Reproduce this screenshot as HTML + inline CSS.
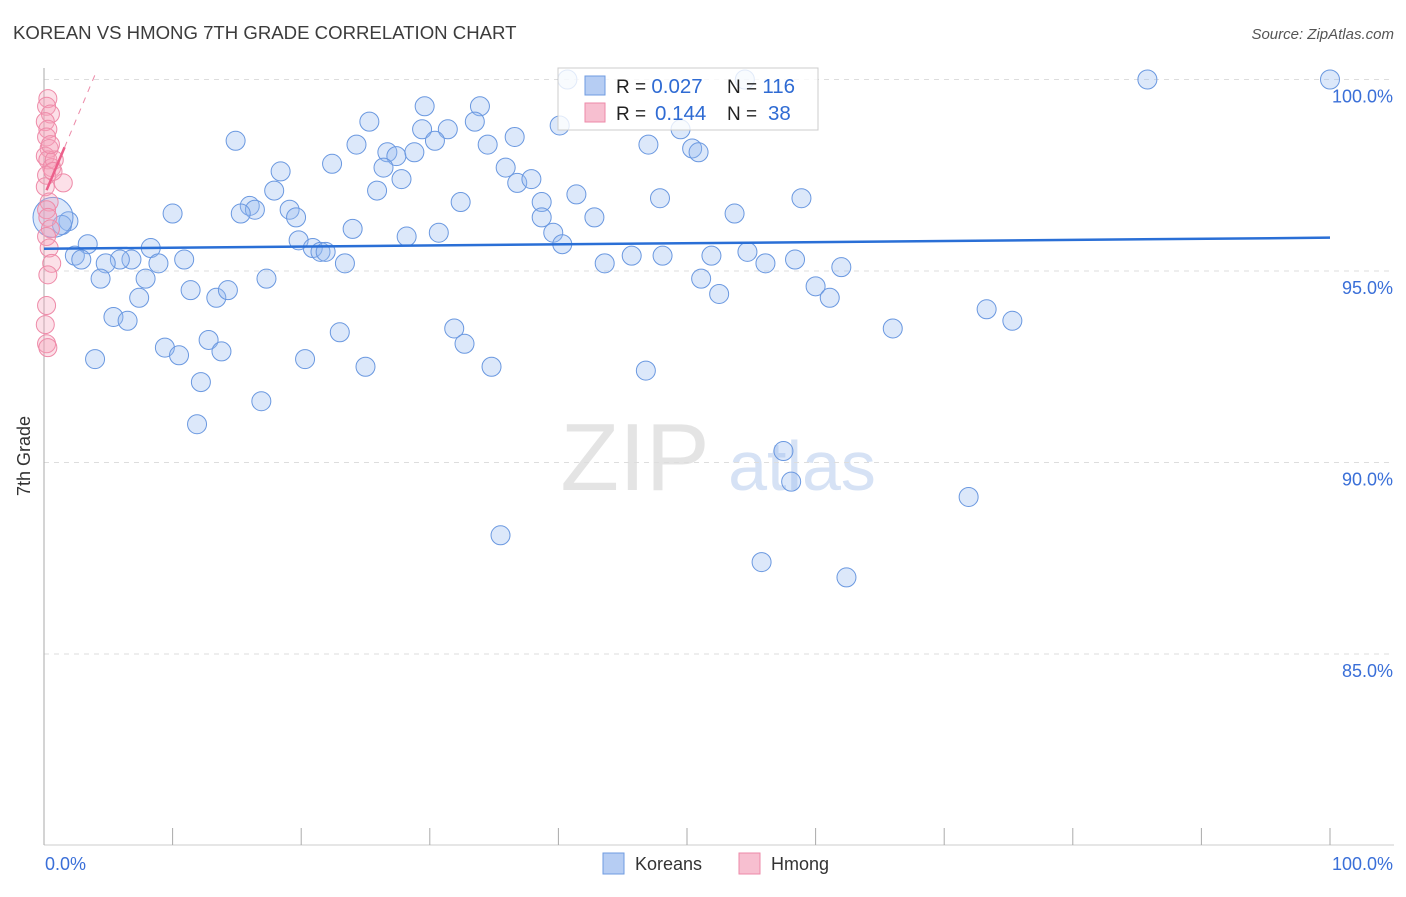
<!DOCTYPE html>
<html><head><meta charset="utf-8"><style>
body{margin:0;background:#fff;font-family:"Liberation Sans",sans-serif}
svg text{font-family:"Liberation Sans",sans-serif}
</style></head><body>
<svg id="chart" width="1406" height="892">
<text x="13" y="39" font-size="18.6" fill="#3c3c3c">KOREAN VS HMONG 7TH GRADE CORRELATION CHART</text>
<text x="1394" y="39" font-size="15" fill="#555" text-anchor="end" font-style="italic">Source: ZipAtlas.com</text>
<text x="30" y="456" font-size="18" fill="#333" transform="rotate(-90 30 456)" text-anchor="middle">7th Grade</text>
<g><text x="635" y="490" font-size="96" fill="#e4e4e4" font-family="Liberation Serif" text-anchor="middle">ZIP</text><text x="802" y="490" font-size="70" fill="#d6e2f5" text-anchor="middle">atlas</text></g>
<g id="grid"></g><g id="axes"></g><g id="pts"></g><g id="trend"></g>
<g>
<rect x="558" y="68" width="260" height="62" fill="#fff" fill-opacity="0.8" stroke="#ccc"/>
<rect x="585" y="76" width="20" height="19" fill="#b6cdf3" stroke="#6f9be0"/>
<rect x="585" y="103" width="20" height="19" fill="#f7bfd0" stroke="#ee8aa8"/>
<text x="616" y="93" font-size="19" fill="#222">R = <tspan font-size="20.5" fill="#2f6bd3">0.027</tspan><tspan x="727">N = </tspan><tspan font-size="20.5" fill="#2f6bd3">116</tspan></text>
<text x="616" y="120" font-size="19" fill="#222">R = <tspan x="655" font-size="20.5" fill="#2f6bd3">0.144</tspan><tspan x="727">N = </tspan><tspan x="768" font-size="20.5" fill="#2f6bd3">38</tspan></text>
</g>
<g>
<rect x="603" y="853" width="21" height="21" fill="#b6cdf3" stroke="#6f9be0"/>
<text x="635" y="870" font-size="18" fill="#333">Koreans</text>
<rect x="739" y="853" width="21" height="21" fill="#f7bfd0" stroke="#ee8aa8"/>
<text x="771" y="870" font-size="18" fill="#333">Hmong</text>
</g>
</svg>
<script>
const yTicks=[100,95,90,85];
const yTickLabels=["100.0%","95.0%","90.0%","85.0%"];
const xTickCount=10;
const koreanX=[40.7,54.5,85.8,100,14.9,25.3,29.6,33.9,29.4,31.4,33.5,30.4,24.3,34.5,36.6,40.1,49.5,47.0,50.4,50.9,22.4,26.7,27.4,28.8,26.4,27.8,35.9,36.8,37.9,18.4,17.9,25.9,41.4,32.4,38.7,47.9,58.9,16.0,16.4,19.1,19.6,15.3,10.0,38.7,42.8,53.7,24.0,28.2,30.7,39.6,19.8,20.9,21.5,21.9,23.4,40.3,43.6,45.7,48.1,51.9,54.7,56.1,58.4,62.0,51.1,52.5,60.0,61.1,17.3,10.9,8.3,8.9,6.8,5.9,4.8,3.4,2.4,2.9,4.4,7.9,7.4,11.4,13.4,14.3,5.4,6.5,1.9,1.4,73.3,75.3,66.0,31.9,32.7,23.0,12.8,13.8,9.4,10.5,3.97,20.3,25.0,34.8,46.8,12.2,16.9,11.9,57.5,58.1,71.9,35.5,55.8,62.4];
const koreanY=[100.0,100.0,100.0,100.0,98.4,98.9,99.3,99.3,98.7,98.7,98.9,98.4,98.3,98.3,98.5,98.8,98.7,98.3,98.2,98.1,97.8,98.1,98.0,98.1,97.7,97.4,97.7,97.3,97.4,97.6,97.1,97.1,97.0,96.8,96.8,96.9,96.9,96.7,96.6,96.6,96.4,96.5,96.5,96.4,96.4,96.5,96.1,95.9,96.0,96.0,95.8,95.6,95.5,95.5,95.2,95.7,95.2,95.4,95.4,95.4,95.5,95.2,95.3,95.1,94.8,94.4,94.6,94.3,94.8,95.3,95.6,95.2,95.3,95.3,95.2,95.7,95.4,95.3,94.8,94.8,94.3,94.5,94.3,94.5,93.8,93.7,96.3,96.2,94.0,93.7,93.5,93.5,93.1,93.4,93.2,92.9,93.0,92.8,92.7,92.7,92.5,92.5,92.4,92.1,91.6,91.0,90.3,89.5,89.1,88.1,87.4,87.0];
const hmongX=[0.3,0.2,0.5,0.1,0.3,0.2,0.4,0.1,0.3,0.6,0.2,1.5,0.1,0.4,0.2,0.3,0.5,0.2,0.4,0.6,0.3,0.2,0.1,0.2,0.8,0.5,0.7,0.3];
const hmongY=[99.5,99.3,99.1,98.9,98.7,98.5,98.2,98.0,97.9,97.7,97.5,97.3,97.2,96.8,96.6,96.4,96.1,95.9,95.6,95.2,94.9,94.1,93.6,93.1,97.9,98.3,97.6,93.0];
const koreanBig=[[0.7,96.4]];
const koreanTrend=[95.58,95.87];
const hmongTrend=[96.95,0.8];
const NS="http://www.w3.org/2000/svg";
const X=v=>44+v*12.86, Y=v=>79.5+(100-v)*38.3;
function mk(tag,attrs,parent){const e=document.createElementNS(NS,tag);for(const k in attrs)e.setAttribute(k,attrs[k]);parent.appendChild(e);return e;}
const grid=document.getElementById('grid'),axes=document.getElementById('axes'),pts=document.getElementById('pts'),tr=document.getElementById('trend');
yTicks.forEach((t,i)=>{
 const l=mk('line',{x1:44,x2:1394,y1:Y(t),y2:Y(t),stroke:'#ddd','stroke-dasharray':'5,5'},grid);
 
 
 const tx=mk('text',{x:1393,y:Y(t)+23,'font-size':18,fill:'#3a6fd8','text-anchor':'end'},axes);
 tx.textContent=yTickLabels[i];
 
 
});
const ax=mk('line',{x1:44,x2:44,y1:68,y2:845,stroke:'#aaa'},axes);


const bx=mk('line',{x1:44,x2:1394,y1:845,y2:845,stroke:'#ccc'},axes);


for(let i=0;i<=xTickCount;i++){
 const t=mk('line',{x1:X(i*10),x2:X(i*10),y1:828,y2:845,stroke:'#aaa'},axes);
 
 
}
const xl=mk('text',{x:45,y:870,'font-size':18,fill:'#3a6fd8'},axes);xl.textContent='0.0%';


const xr=mk('text',{x:1393,y:870,'font-size':18,fill:'#3a6fd8','text-anchor':'end'},axes);xr.textContent='100.0%';


koreanX.forEach((x,i)=>{
 const c=mk('circle',{cx:X(x),cy:Y(koreanY[i]),r:9.5,fill:'rgba(150,185,240,0.33)',stroke:'#6a98e0','stroke-width':1},pts);
 
 
});
koreanBig.forEach(p=>{
 const c=mk('circle',{cx:X(p[0]),cy:Y(p[1]),r:20,fill:'rgba(150,185,240,0.33)',stroke:'#6a98e0'},pts);
 
 
});
hmongX.forEach((x,i)=>{
 const c=mk('circle',{cx:X(x),cy:Y(hmongY[i]),r:9,fill:'rgba(245,160,185,0.33)',stroke:'#ee8aa8'},pts);
 
 
});
const kt=mk('line',{x1:X(0),x2:X(100),y1:Y(koreanTrend[0]),y2:Y(koreanTrend[1]),stroke:'#2a6fd6','stroke-width':2.5},tr);


const hy=x=>hmongTrend[0]+hmongTrend[1]*x;
const hs=mk('line',{x1:X(0.2),x2:X(1.6),y1:Y(hy(0.2)),y2:Y(hy(1.6)),stroke:'#ec5f8a','stroke-width':2.5},tr);


const hd=mk('line',{x1:X(1.6),x2:X(4),y1:Y(hy(1.6)),y2:Y(hy(4)),stroke:'#ec8aa8','stroke-width':1,'stroke-dasharray':'6,6'},tr);


</script>
</body></html>
